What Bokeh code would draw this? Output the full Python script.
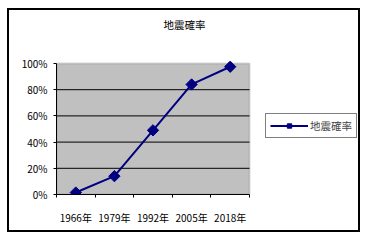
import math
from bokeh.plotting import figure
from bokeh.models import (Range1d, FixedTicker, NumeralTickFormatter,
                          Legend, LegendItem, BoxAnnotation, Label)
from bokeh.embed import file_html
from bokeh.resources import INLINE

title_text = "地震確率"
series_name = "地震確率"
years = ["1966年", "1979年", "1992年", "2005年", "2018年"]
probabilities = [0.015, 0.14, 0.49, 0.84, 0.975]
y_ticks = [0, 0.2, 0.4, 0.6, 0.8, 1.0]

FONT = "Noto Sans CJK JP"
NAVY = "#000080"

n = len(years)
xs = list(range(n))
x_lo, x_hi = -0.5, n - 0.5

# layout geometry (pixels)
W, H = 353, 224
FL, FR, FT, FB = 47, 350, 2, 184          # frame edges in canvas px
plot_px_w = 193                           # width of the grey plot area
plot_px_h = 131                           # height of the grey plot area
x_end = x_lo + (FR - FL) * (x_hi - x_lo) / plot_px_w
y_end = (FB - FT) / plot_px_h

p = figure(width=W, height=H, output_backend="svg", toolbar_location=None,
           x_range=Range1d(x_lo, x_end), y_range=Range1d(0, y_end),
           min_border_left=FL, min_border_right=W - FR, min_border_top=FT,
           min_border_bottom=H - FB,
           styles={"border": "2px solid black", "margin-left": "7px",
                   "margin-top": "8px"})

p.background_fill_color = "white"
p.border_fill_color = "white"
p.outline_line_color = None
p.xgrid.grid_line_color = None
p.ygrid.grid_line_color = None

plot_area = BoxAnnotation(left=x_lo, right=x_hi, bottom=0, top=1,
                          fill_color="#c0c0c0", fill_alpha=1,
                          line_color="#808080", line_width=2, level="underlay")
p.add_layout(plot_area)

grid_y = y_ticks[1:-1]
p.segment(x0=[x_lo] * len(grid_y), x1=[x_hi] * len(grid_y), y0=grid_y, y1=grid_y,
          line_color="black", line_width=1)

# axes
xa = p.xaxis[0]
xa.bounds = (x_lo, x_hi)
xa.ticker = FixedTicker(ticks=xs, minor_ticks=[i - 0.5 for i in range(n + 1)])
xa.major_label_overrides = {i: y for i, y in zip(xs, years)}
xa.major_tick_line_color = None
xa.major_tick_out = 0
xa.minor_tick_out = 3
xa.minor_tick_in = 0
xa.minor_tick_line_color = "black"
xa.axis_line_color = "black"
xa.major_label_standoff = 12
xa.major_label_text_font = FONT
xa.major_label_text_font_size = "10px"
xa.major_label_text_color = "black"

ya = p.yaxis[0]
ya.bounds = (0, 1)
ya.ticker = FixedTicker(ticks=y_ticks, minor_ticks=[])
ya.formatter = NumeralTickFormatter(format="0%")
ya.major_tick_out = 3
ya.major_tick_in = 0
ya.major_tick_line_color = "black"
ya.minor_tick_line_color = None
ya.axis_line_color = "black"
ya.major_label_standoff = 6
ya.major_label_text_font = FONT
ya.major_label_text_font_size = "10px"
ya.major_label_text_color = "black"

line = p.line(xs, probabilities, line_color=NAVY, line_width=2)
pts = p.scatter(xs, probabilities, marker="square", angle=math.pi / 4, size=8,
                fill_color=NAVY, line_color=NAVY)

legend = Legend(items=[LegendItem(label=series_name, renderers=[line, pts])],
                location=(209, 56), orientation="vertical")
legend.border_line_color = "black"
legend.border_line_width = 1
legend.background_fill_color = "white"
legend.background_fill_alpha = 1
legend.label_text_font = FONT
legend.label_text_font_size = "10.5px"
legend.glyph_width = 38
legend.glyph_height = 11
legend.label_height = 11
legend.padding = 4
legend.margin = 0
legend.spacing = 0
legend.label_standoff = 2
p.add_layout(legend, "center")

title = Label(x=128, y=170, x_units="screen", y_units="screen", text=title_text,
              text_align="center", text_baseline="middle", text_font=FONT,
              text_font_size="10.5px", text_color="black")
p.add_layout(title)

open("out.html", "w").write(file_html(p, INLINE))
